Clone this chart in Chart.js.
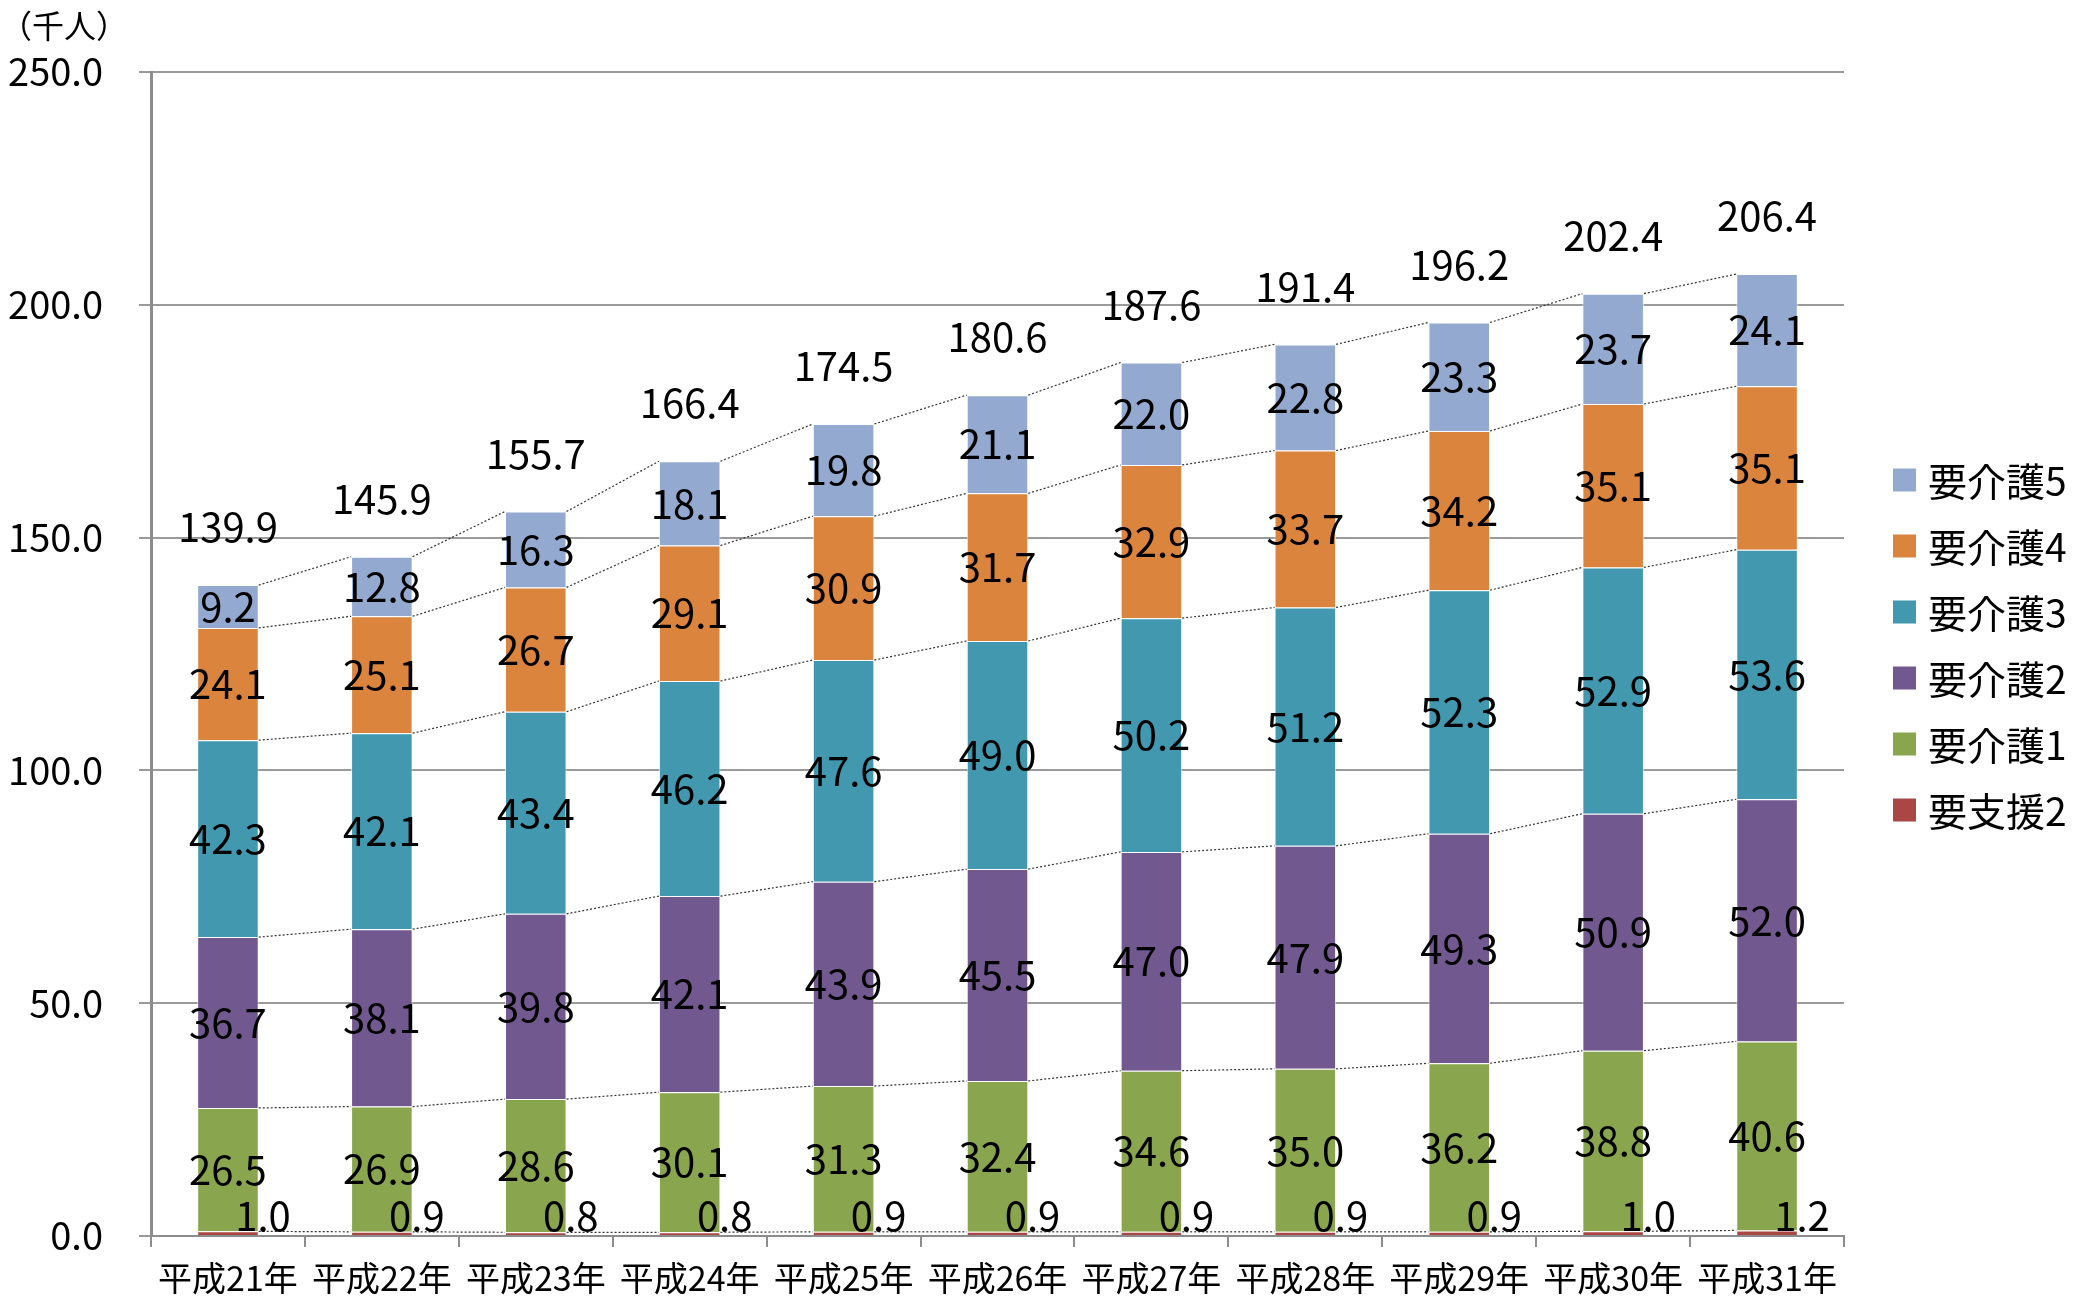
<!DOCTYPE html>
<html lang="ja">
<head>
<meta charset="utf-8">
<script src="https://cdn.jsdelivr.net/npm/chart.js@4.4.0/dist/chart.umd.min.js"></script>
<style>
  html, body { margin: 0; padding: 0; background: #fff; }
  #wrap { width: 2091px; height: 1298px; position: relative; }
</style>
</head>
<body>
<div id="wrap"><canvas id="barchart"></canvas></div>
<script>
const years = ['平成21年', '平成22年', '平成23年', '平成24年', '平成25年', '平成26年',
  '平成27年', '平成28年', '平成29年', '平成30年', '平成31年'];

const youshien2 = [1.0, 0.9, 0.8, 0.8, 0.9, 0.9, 0.9, 0.9, 0.9, 1.0, 1.2];
const youkaigo1 = [26.5, 26.9, 28.6, 30.1, 31.3, 32.4, 34.6, 35.0, 36.2, 38.8, 40.6];
const youkaigo2 = [36.7, 38.1, 39.8, 42.1, 43.9, 45.5, 47.0, 47.9, 49.3, 50.9, 52.0];
const youkaigo3 = [42.3, 42.1, 43.4, 46.2, 47.6, 49.0, 50.2, 51.2, 52.3, 52.9, 53.6];
const youkaigo4 = [24.1, 25.1, 26.7, 29.1, 30.9, 31.7, 32.9, 33.7, 34.2, 35.1, 35.1];
const youkaigo5 = [9.2, 12.8, 16.3, 18.1, 19.8, 21.1, 22.0, 22.8, 23.3, 23.7, 24.1];
const totals = [139.9, 145.9, 155.7, 166.4, 174.5, 180.6, 187.6, 191.4, 196.2, 202.4, 206.4];

const yTicks = [0, 50, 100, 150, 200, 250];
const unitLabel = '（千人）';

const FONT = "'Noto Sans CJK JP', 'Noto Sans', sans-serif";

// series lines between neighbouring bars + value labels + legend
const decorations = {
  id: 'decorations',
  afterDatasetsDraw(chart) {
    const c = chart.ctx;
    const area = chart.chartArea;
    const sets = chart.data.datasets;

    // dotted series lines
    c.save();
    c.strokeStyle = '#333';
    c.lineWidth = 1.2;
    c.setLineDash([2, 2]);
    sets.forEach((ds, d) => {
      const bars = chart.getDatasetMeta(d).data;
      for (let i = 0; i < bars.length - 1; i++) {
        const a = bars[i], b = bars[i + 1];
        c.beginPath();
        c.moveTo(a.x + a.width / 2, a.y);
        c.lineTo(b.x - b.width / 2, b.y);
        c.stroke();
      }
    });
    c.restore();

    // segment labels
    c.save();
    c.fillStyle = '#000';
    c.font = '40px ' + FONT;
    c.textAlign = 'center';
    c.textBaseline = 'middle';
    sets.forEach((ds, d) => {
      const bars = chart.getDatasetMeta(d).data;
      bars.forEach((bar, i) => {
        const txt = ds.data[i].toFixed(1);
        if (d === 0) {
          c.fillText(txt, bar.x + 35, bar.base - 19);
        } else {
          c.fillText(txt, bar.x, (bar.y + bar.base) / 2);
        }
      });
    });

    // totals above the stacks
    const top = chart.getDatasetMeta(sets.length - 1).data;
    top.forEach((bar, i) => {
      c.fillText(totals[i].toFixed(1), bar.x, bar.y - 58);
    });

    // unit label
    c.textAlign = 'left';
    c.font = '32px ' + FONT;
    c.fillText(unitLabel, 0, 26);

    // legend (reverse order, top = last dataset)
    c.font = '39px ' + FONT;
    const lx = area.right + 49;
    let ly = area.top + 408;
    for (let d = sets.length - 1; d >= 0; d--) {
      c.fillStyle = sets[d].backgroundColor;
      c.fillRect(lx, ly - 11.5, 23, 23);
      c.fillStyle = '#000';
      c.fillText(sets[d].label, lx + 35, ly + 1);
      ly += 66;
    }
    c.restore();
  }
};

document.addEventListener('DOMContentLoaded', function() {
  const ctx = document.getElementById('barchart');

  const mk = (label, data, color) => ({
    label: label,
    data: data,
    backgroundColor: color,
    borderColor: 'rgba(255, 255, 255, 0.7)',
    borderWidth: 1,
    categoryPercentage: 1.0,
    barPercentage: 0.4
  });

  new Chart(ctx, {
    type: 'bar',
    data: {
      labels: years,
      datasets: [
        mk('要支援2', youshien2, '#AA4643'),
        mk('要介護1', youkaigo1, '#89A54E'),
        mk('要介護2', youkaigo2, '#71588F'),
        mk('要介護3', youkaigo3, '#4198AF'),
        mk('要介護4', youkaigo4, '#DB843D'),
        mk('要介護5', youkaigo5, '#93A9CF')
      ]
    },
    plugins: [decorations],
    options: {
      responsive: true,
      maintainAspectRatio: false,
      animation: false,
      layout: { padding: { top: 72, right: 247, left: 0, bottom: 0 } },
      plugins: {
        legend: { display: false },
        tooltip: { enabled: false }
      },
      scales: {
        x: {
          stacked: true,
          afterFit: function(scale) { scale.height = 62; },
          grid: {
            drawOnChartArea: false,
            drawTicks: true,
            tickLength: 11,
            color: '#8c8c8c',
            lineWidth: 2,
            offset: true
          },
          border: { color: '#8c8c8c', width: 2 },
          ticks: {
            color: '#000',
            padding: 11,
            maxRotation: 0,
            font: { family: FONT, size: 34 }
          }
        },
        y: {
          stacked: true,
          min: 0,
          max: 250,
          afterFit: function(scale) { scale.width = 151; },
          afterBuildTicks: function(scale) {
            scale.ticks = yTicks.map(v => ({ value: v }));
          },
          grid: {
            color: '#9a9a9a',
            lineWidth: 2,
            tickLength: 12,
            drawTicks: true
          },
          border: { color: '#8c8c8c', width: 3 },
          ticks: {
            color: '#000',
            padding: 36,
            font: { family: FONT, size: 38 },
            callback: function(value) {
              return Number(value).toFixed(1);
            }
          }
        }
      }
    }
  });
});
</script>
</body>
</html>
